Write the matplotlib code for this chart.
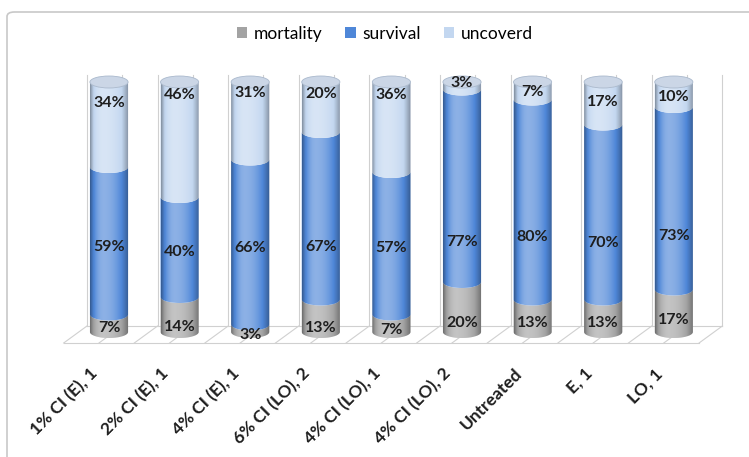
import numpy as np
import matplotlib
matplotlib.use("Agg")
import matplotlib.pyplot as plt
from matplotlib.patches import Polygon, Ellipse, Patch, FancyBboxPatch

plt.rcParams["font.family"] = ["Lato", "DejaVu Sans"]

categories = ["1% CI (E), 1", "2% CI (E), 1", "4% CI (E), 1", "6% CI (LO), 2",
              "4% CI (LO), 1", "4% CI (LO), 2", "Untreated", "E, 1", "LO, 1"]
mortality = [7, 14, 3, 13, 7, 20, 13, 13, 17]
survival = [59, 40, 66, 67, 57, 77, 80, 70, 73]
uncoverd = [34, 46, 31, 20, 36, 3, 7, 17, 10]

series_names = ["mortality", "survival", "uncoverd"]
colors = ["#a3a3a3", "#4f87d8", "#c3d7f0"]
cap_color = "#cbd6e6"

# where excel put the value labels (data units)
label_y = [
    [1.6, 2.0, -1.2, 1.6, 0.8, 3.6, 3.6, 3.6, 4.8],
    [34, 32, 33.6, 34, 33.6, 36, 38, 35.6, 38.4],
    [91.6, 94.8, 95.6, 95.2, 94.8, 99.6, 96, 92, 94],
]

W, H = 749, 457
fig = plt.figure(figsize=(W / 100, H / 100), dpi=100)
ax = fig.add_axes([0, 0, 1, 1])
ax.axis("off")

# outer chart frame
frame = FancyBboxPatch((7 / W, -0.1), 1.2, 1.1 - 12 / H,
                       boxstyle="round,pad=0,rounding_size=0.01",
                       transform=fig.transFigure, fc="none", ec="#c8c8c8", lw=1.2)
fig.patches.append(frame)

# 3d floor and back wall
grid_c = "#d0d0d0"
back_y, front_y, top_y, skew = 2.4, -4.4, 102.8, 0.33
xs = -0.312 + 0.5 * np.arange(19)
for xb in xs:
    ax.plot([xb, xb], [back_y, top_y], color=grid_c, lw=0.8, zorder=0)
    ax.plot([xb, xb - skew], [back_y, front_y], color=grid_c, lw=0.8, zorder=0)
ax.plot([xs[0], xs[-1]], [back_y, back_y], color=grid_c, lw=0.8, zorder=0)
ax.plot([xs[0] - skew, xs[-1] - skew], [front_y, front_y], color=grid_c, lw=0.8, zorder=0)

bw = 0.54   # bar width in category units
eh = 2.4    # half height of the cylinder ellipses
t = np.linspace(np.pi, 2 * np.pi, 40)


def lower_arc(xc, y):
    return np.column_stack([xc + bw / 2 * np.cos(t), y + eh * np.sin(t)])


# horizontal shading across a cylinder: dark edges, highlight left of centre
u = np.linspace(0, 1, 200)
tt = np.where(u < 0.35, 1 - ((0.35 - u) / 0.35) ** 2, 1 - ((u - 0.35) / 0.65) ** 2)
shade = np.zeros((1, len(u), 4))
shade[0, :, :3] = np.where(tt > 0.5, 1.0, 0.0)[:, None]
shade[0, :, 3] = np.abs(tt - 0.5) * 0.7

values = [mortality, survival, uncoverd]
for i, cat in enumerate(categories):
    xc = i
    bottom = 0
    for s in range(3):
        v = values[s][i]
        lo = lower_arc(xc, bottom)
        hi = lower_arc(xc, bottom + v)[::-1]
        ax.add_patch(Polygon(np.vstack([lo, hi]), closed=True, fc=colors[s],
                             ec="none", zorder=2))
        bottom += v
    # body outline for the shading clip
    body = np.vstack([lower_arc(xc, 0), lower_arc(xc, bottom)[::-1]])
    clip = Polygon(body, closed=True, fc="none", ec="none", transform=ax.transData)
    ax.add_patch(clip)
    im = ax.imshow(shade, extent=[xc - bw / 2, xc + bw / 2, -eh, bottom],
                   aspect="auto", zorder=3, interpolation="bilinear")
    im.set_clip_path(clip)
    ax.add_patch(Ellipse((xc, bottom), bw, 2 * eh, fc=cap_color, ec="#a9b8cc",
                         lw=0.6, zorder=4))
    for s in range(3):
        ax.text(xc, label_y[s][i], f"{values[s][i]}%", ha="center", va="center",
                fontsize=11.5, fontweight="bold", color="#1e1e1e", zorder=5)
    ax.text(xc - 0.19, -15.6, cat, rotation=45, rotation_mode="anchor",
            ha="right", va="center", fontsize=12.5, fontweight="bold", color="#1e1e1e")

ax.set_xlim(-109 / 70.6, (W - 109) / 70.6)
ax.set_ylim(-50, 132.8)

handles = [Patch(fc=c, ec="none") for c in colors]
fig.legend(handles, series_names, loc="center", bbox_to_anchor=(385 / W, 1 - 34 / H),
           ncol=3, frameon=False, fontsize=12.5, handlelength=0.6, handleheight=0.6,
           handletextpad=0.4, columnspacing=1.3)

fig.savefig("out.png", dpi=100)
